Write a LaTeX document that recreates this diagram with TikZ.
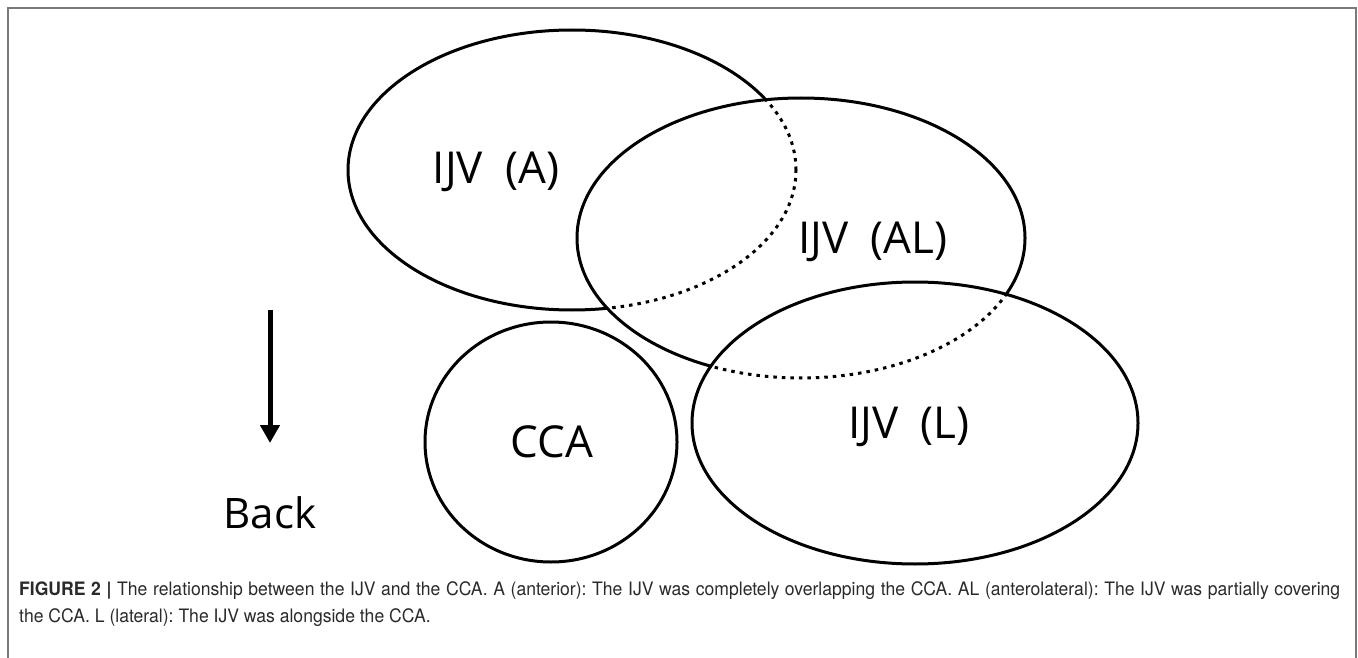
\documentclass[tikz,border=0pt]{standalone}
\usepackage{fontspec}
\setmainfont{Open Sans}
\newfontfamily\capfont[FakeStretch=0.95]{TeX Gyre Heros}
\usetikzlibrary{arrows.meta}
\definecolor{framegray}{HTML}{7A7A7A}
\definecolor{captext}{HTML}{2A2A2A}
\frenchspacing
\begin{document}
\begin{tikzpicture}[x=1pt,y=-1pt,
  vessel/.style={line width=3pt, draw=black},
  hiddenline/.style={line width=3pt, draw=black, dash pattern=on 3.5pt off 5pt},
  eraser/.style={line width=6pt, draw=white},
  lbl/.style={font=\fontsize{44}{44}\selectfont, anchor=base, inner sep=0pt},
  caplbl/.style={font=\capfont\fontsize{18.5}{18.5}\selectfont, text=captext, anchor=base west, inner sep=0pt},
  frameline/.style={line width=2pt, draw=framegray}]
\useasboundingbox (0,0) rectangle (1358,658);
\def\ellA{(572,170) ellipse [x radius=224pt, y radius=140pt]}
\def\ellAL{(801,238) ellipse [x radius=224pt, y radius=140pt]}
\def\ellL{(915,423) ellipse [x radius=223pt, y radius=141pt]}
% frame
\draw[frameline] (8,658) -- (8,8) -- (1356,8) -- (1356,658);
% IJV (A)
\draw[vessel] \ellA;
\begin{scope}
  \clip \ellAL;
  \draw[eraser] \ellA;
  \draw[hiddenline] \ellA;
\end{scope}
% IJV (AL)
\draw[vessel] \ellAL;
\begin{scope}
  \clip \ellL;
  \draw[eraser] \ellAL;
  \draw[hiddenline] \ellAL;
\end{scope}
% IJV (L)
\draw[vessel] \ellL;
% CCA
\draw[vessel] (551,442) ellipse [x radius=126pt, y radius=120pt];
% labels
\node[lbl] (ijva) at (496,183) {IJV\hspace{0.25em} (A)};
\node[lbl] (ijval) at (873,253) {IJV\hspace{0.25em} (AL)};
\node[lbl] (ijvl) at (909,438) {IJV\hspace{0.25em} (L)};
\node[lbl] (cca) at (552,457) {CCA};
\node[lbl, font=\fontsize{42}{42}\selectfont] (back) at (270,528) {Back};
% arrow
\coordinate (arrtop) at (270,310);
\coordinate (arrtip) at (270,443);
\draw[line width=5pt, -{Triangle[width=19pt,length=18pt]}] (arrtop) -- (arrtip);
% caption
\node[caplbl] (cap1) at (19,595) {\makebox[1321pt][s]{\textbf{FIGURE 2 |} The relationship between the IJV and the CCA. A (anterior): The IJV was completely overlapping the CCA. AL (anterolateral): The IJV was partially covering}};
\node[caplbl] (cap2) at (19,622) {the CCA. L (lateral): The IJV was alongside the CCA.};
\end{tikzpicture}
\end{document}
